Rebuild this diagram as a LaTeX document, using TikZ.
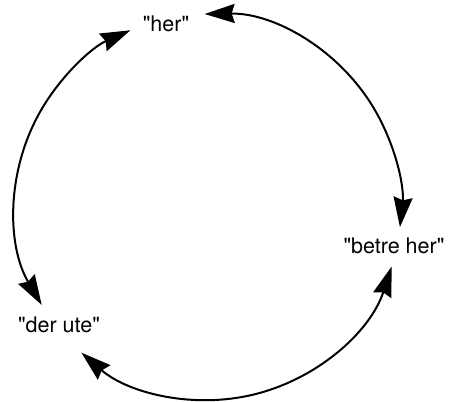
\documentclass[tikz,border=0pt]{standalone}
\usepackage{fontspec}
\setmainfont{TeX Gyre Heros}[Ligatures=TeXOff]
\usetikzlibrary{arrows.meta}

\begin{document}
\begin{tikzpicture}[x=1pt, y=1pt, >={Stealth[length=30pt,width=19pt,inset=3pt]},
    place/.style={font=\fontsize{21.5}{24}\selectfont, anchor=base, inner sep=0pt},
    link/.style={<->, line width=2pt}]
    \useasboundingbox (0,0) rectangle (449,401);

    % Places
    \node[place] (her) at (166,369) {"her"};
    \node[place] (betre) at (394,147) {"betre her"};
    \node[place] (ute) at (59,68) {"der ute"};

    % Circle the arcs lie on
    \def\circr{193}
    \coordinate (o) at (208,194);

    % Arc end points
    \coordinate (her-r) at ([shift={(91:\circr)}]o);
    \coordinate (betre-b) at ([shift={(-18:\circr)}]o);
    \coordinate (ute-t) at ([shift={(210.5:\circr)}]o);

    % her <-> betre her
    \draw[link] (her-r) arc[start angle=91, end angle=-6, radius=\circr];
    % betre her <-> der ute
    \draw[link] (betre-b) arc[start angle=-18, end angle=-131, radius=\circr];
    % der ute <-> her
    \draw[link] (ute-t) arc[start angle=210.5, end angle=113.7, radius=\circr];

\end{tikzpicture}
\end{document}
